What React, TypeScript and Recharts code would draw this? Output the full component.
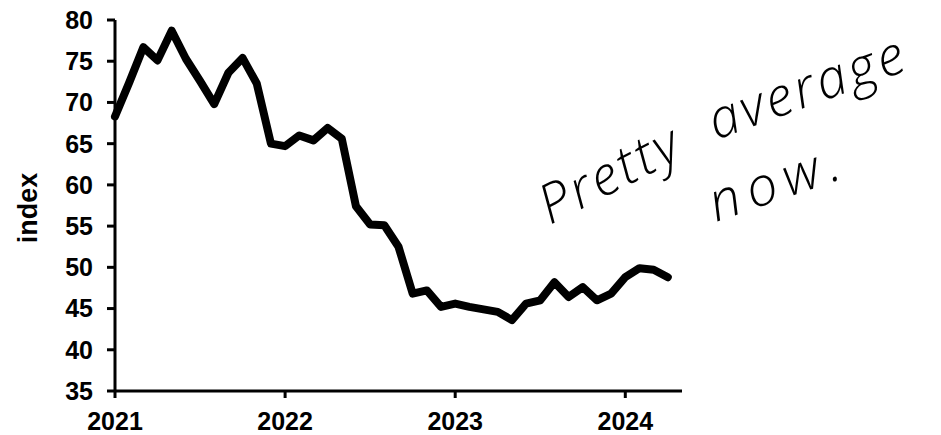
import React from 'react';
import { LineChart, Line, XAxis, YAxis } from 'recharts';

const monthIndex = Array.from({ length: 40 }, (_, i) => i);
const values = [
  68.3, 72.4, 76.7, 75.1, 78.7, 75.3, 72.6, 69.8, 73.6, 75.4, 72.3, 65.0,
  64.7, 66.0, 65.4, 66.9, 65.6, 57.4, 55.2, 55.1, 52.5, 46.8, 47.2, 45.2,
  45.6, 45.2, 44.9, 44.6, 43.6, 45.6, 46.0, 48.2, 46.4, 47.6, 46.0, 46.8,
  48.8, 49.9, 49.7, 48.8,
];
const xTicks = [0, 12, 24, 36];
const xTickLabels = ['2021', '2022', '2023', '2024'];
const yTicks = [35, 40, 45, 50, 55, 60, 65, 70, 75, 80];

const data = monthIndex.map((m, i) => ({ m, v: values[i] }));

const tickStyle = {
  fontFamily: '"Liberation Sans", Arial, sans-serif',
  fontWeight: 700,
  fontSize: 25,
  fill: '#000',
};

const hand = {
  fontFamily: '"Open Sans", "DejaVu Sans", sans-serif',
  fontWeight: 300,
  fontStyle: 'italic' as const,
  fontSize: 54,
  fill: '#000',
};

const Annotation = () => (
  <g>
    <text x={550} y={225} transform="rotate(-27 550 225)" textLength={150} lengthAdjust="spacing" style={hand}>
      Pretty
    </text>
    <text x={716} y={140} transform="rotate(-20 716 140)" textLength={205} lengthAdjust="spacing" style={hand}>
      average
    </text>
    <text x={716} y={222} transform="rotate(-19 716 222)" textLength={135} lengthAdjust="spacing" style={hand}>
      now.
    </text>
    <text x={37} y={208} transform="rotate(-90 37 208)" textAnchor="middle" style={{ ...tickStyle, fontSize: 27 }}>
      index
    </text>
  </g>
);

export default function App() {
  return (
    <div style={{ position: 'absolute', left: 0, top: 0, background: '#fff' }}>
      <LineChart width={941} height={435} data={data} margin={{ top: 20, right: 259, bottom: 0, left: 0 }}>
        <XAxis
          dataKey="m"
          type="number"
          domain={[0, 40]}
          ticks={xTicks}
          tickFormatter={(v: number) => xTickLabels[xTicks.indexOf(v)]}
          axisLine={{ stroke: '#000', strokeWidth: 3 }}
          tickLine={{ stroke: '#000', strokeWidth: 3 }}
          tickSize={7}
          tickMargin={14}
          tick={tickStyle}
          fontSize={25}
          height={44}
        />
        <YAxis
          domain={[35, 80]}
          ticks={yTicks}
          interval={0}
          axisLine={{ stroke: '#000', strokeWidth: 3 }}
          tickLine={{ stroke: '#000', strokeWidth: 3 }}
          tickSize={8}
          tickMargin={14}
          tick={tickStyle}
          fontSize={25}
          width={115}
        />
        <Line
          dataKey="v"
          stroke="#000"
          strokeWidth={8}
          strokeLinejoin="round"
          strokeLinecap="round"
          dot={false}
          isAnimationActive={false}
        />
        <Annotation />
      </LineChart>
    </div>
  );
}
